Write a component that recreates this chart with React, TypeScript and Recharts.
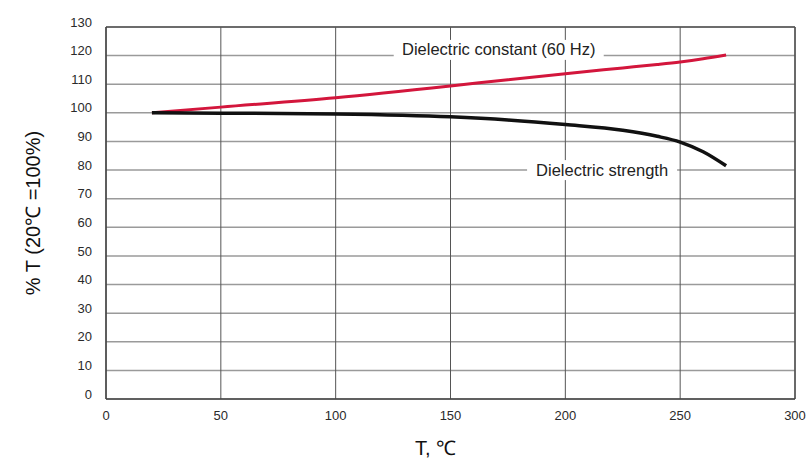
import { LineChart, Line, XAxis, YAxis, CartesianGrid, ReferenceLine, ReferenceDot } from "recharts";

// temperature, °C
const tempC = [20, 50, 100, 150, 175, 200, 225, 240, 250, 260, 270];
// % of value at 20 °C
const dielectricConstant = [100, 102, 105.3, 109.4, 111.6, 113.7, 115.7, 116.9, 117.8, 118.9, 120.2];
const dielectricStrength = [100, 99.9, 99.6, 98.6, 97.5, 95.9, 93.9, 91.8, 89.8, 86.4, 81.5];

const xTicks = [0, 50, 100, 150, 200, 250, 300];
const yTicks = [0, 10, 20, 30, 40, 50, 60, 70, 80, 90, 100, 110, 120, 130];

const constantData = tempC.map((t, i) => ({ t, v: dielectricConstant[i] }));
const strengthData = tempC.map((t, i) => ({ t, v: dielectricStrength[i] }));

const FONT = "'Liberation Sans', Arial, Helvetica, sans-serif";

const boxLabel = (text: string, w: number) => (props: any) => {
  const { viewBox } = props;
  const cx = viewBox.x + (viewBox.width || 0) / 2;
  const cy = viewBox.y + (viewBox.height || 0) / 2;
  return (
    <g>
      <rect x={cx - w / 2} y={cy - 10} width={w} height={20} fill="#fff" />
      <text x={cx} y={cy} dy={5.5} textAnchor="middle" fontSize={16.5} fill="#222" fontFamily={FONT}>
        {text}
      </text>
    </g>
  );
};

const App = () => {
  return (
    <div style={{ position: "absolute", left: 0, top: 0, background: "#fff" }}>
      <LineChart width={809} height={463} margin={{ top: 27, right: 14, bottom: 34, left: 0 }}>
        <CartesianGrid vertical={false} stroke="#9a9a9a" strokeWidth={1.5} />
        <CartesianGrid horizontal={false} stroke="#555" strokeWidth={1} />
        <XAxis
          dataKey="t"
          type="number"
          domain={[0, 300]}
          ticks={xTicks}
          allowDuplicatedCategory={false}
          stroke="#444"
          strokeWidth={1.5}
          tickSize={0}
          tickMargin={12}
          height={30}
          tick={{ fontSize: 13, fill: "#2a2a2a", fontFamily: FONT }}
          label={(p: any) => (
            <text
              x={p.viewBox.x + p.viewBox.width / 2 - 15}
              y={p.viewBox.y + 56}
              textAnchor="middle"
              fontSize={20}
              fill="#111"
              fontFamily={FONT}
            >
              T, ℃
            </text>
          )}
        />
        <YAxis
          type="number"
          domain={[0, 130]}
          ticks={yTicks}
          interval={0}
          width={106}
          stroke="#444"
          strokeWidth={1.5}
          tickSize={0}
          tickMargin={14}
          tick={{ fontSize: 13, fill: "#2a2a2a", fontFamily: FONT, dy: -5 }}
          label={(p: any) => {
            const x = p.viewBox.x + 40;
            const y = p.viewBox.y + p.viewBox.height / 2;
            return (
              <text
                x={x}
                y={y}
                transform={`rotate(-90, ${x}, ${y})`}
                textAnchor="middle"
                fontSize={20}
                fill="#111"
                fontFamily={FONT}
              >
                % T (20℃ =100%)
              </text>
            );
          }}
        />
        <ReferenceLine y={130} stroke="#555" strokeWidth={1.5} />
        <ReferenceLine x={300} stroke="#555" strokeWidth={1.5} />
        <ReferenceDot
          x={171}
          y={122}
          r={0}
          stroke="none"
          fill="none"
          label={boxLabel("Dielectric constant (60 Hz)", 210)}
        />
        <ReferenceDot
          x={216}
          y={80}
          r={0}
          stroke="none"
          fill="none"
          label={boxLabel("Dielectric strength", 150)}
        />
        <Line
          data={constantData}
          dataKey="v"
          type="monotone"
          stroke="#d3163c"
          strokeWidth={3}
          dot={false}
          isAnimationActive={false}
        />
        <Line
          data={strengthData}
          dataKey="v"
          type="monotone"
          stroke="#111"
          strokeWidth={3.5}
          dot={false}
          isAnimationActive={false}
        />
      </LineChart>
    </div>
  );
};

export default App;
